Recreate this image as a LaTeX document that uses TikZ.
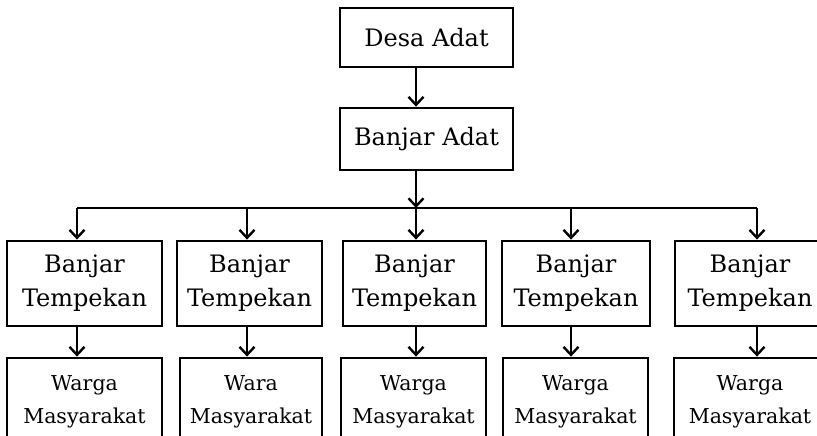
\documentclass[tikz,border=0pt]{standalone}
\usepackage{fontspec}
\setmainfont{DejaVu Serif}
\usetikzlibrary{arrows.meta}
\begin{document}
\begin{tikzpicture}[x=1pt,y=-1pt,
  box/.style={draw, line width=2.8pt, inner sep=0pt, align=center, anchor=center},
  bigtext/.style={font=\fontsize{24}{34}\selectfont},
  smalltext/.style={font=\fontsize{20.5}{33}\selectfont},
  arr/.style={line width=2.4pt, -{Straight Barb[length=8pt,width=15pt]}},
  link/.style={line width=2.4pt}]
\useasboundingbox (0,0) rectangle (817,436);
\clip (0,0) rectangle (817,436);

% columns where the connectors drop
\coordinate (c1) at (77,0);
\coordinate (c2) at (247,0);
\coordinate (c3) at (416,0);
\coordinate (c4) at (571,0);
\coordinate (c5) at (757,0);
\coordinate (bar) at (0,208);

% top of the hierarchy
\node[box, bigtext, minimum width=173pt, minimum height=59pt] (desa) at (426.5,37.5) {Desa Adat};
\node[box, bigtext, minimum width=173pt, minimum height=62pt] (banjar) at (426.5,139) {Banjar Adat};

% Banjar Tempekan row
\node[box, bigtext, minimum width=155pt, minimum height=85pt] (t1) at (84.5,283.5) {Banjar\\Tempekan};
\node[box, bigtext, minimum width=145pt, minimum height=85pt] (t2) at (249.5,283.5) {Banjar\\Tempekan};
\node[box, bigtext, minimum width=143pt, minimum height=85pt] (t3) at (414.5,283.5) {Banjar\\Tempekan};
\node[box, bigtext, minimum width=148pt, minimum height=85pt] (t4) at (576,283.5) {Banjar\\Tempekan};
\node[box, bigtext, minimum width=150pt, minimum height=85pt] (t5) at (750,283.5) {Banjar\\Tempekan};

% Warga Masyarakat row
\node[box, smalltext, minimum width=155pt, minimum height=87pt] (w1) at (84.5,401.5) {Warga\\Masyarakat};
\node[box, smalltext, minimum width=142pt, minimum height=87pt] (w2) at (251,401.5) {Wara\\Masyarakat};
\node[box, smalltext, minimum width=145pt, minimum height=87pt] (w3) at (413.5,401.5) {Warga\\Masyarakat};
\node[box, smalltext, minimum width=145pt, minimum height=87pt] (w4) at (575.5,401.5) {Warga\\Masyarakat};
\node[box, smalltext, minimum width=152pt, minimum height=87pt] (w5) at (750,401.5) {Warga\\Masyarakat};

% connectors
\draw[arr] (desa.south -| c3) -- (banjar.north -| c3);
\draw[arr] (banjar.south -| c3) -- (bar -| c3);
\draw[link] (bar -| c1) -- (bar -| c5);
\foreach \i in {1,...,5}{
  \draw[arr] (bar -| c\i) -- (t\i.north -| c\i);
  \draw[arr] (t\i.south -| c\i) -- (w\i.north -| c\i);
}
\end{tikzpicture}
\end{document}
